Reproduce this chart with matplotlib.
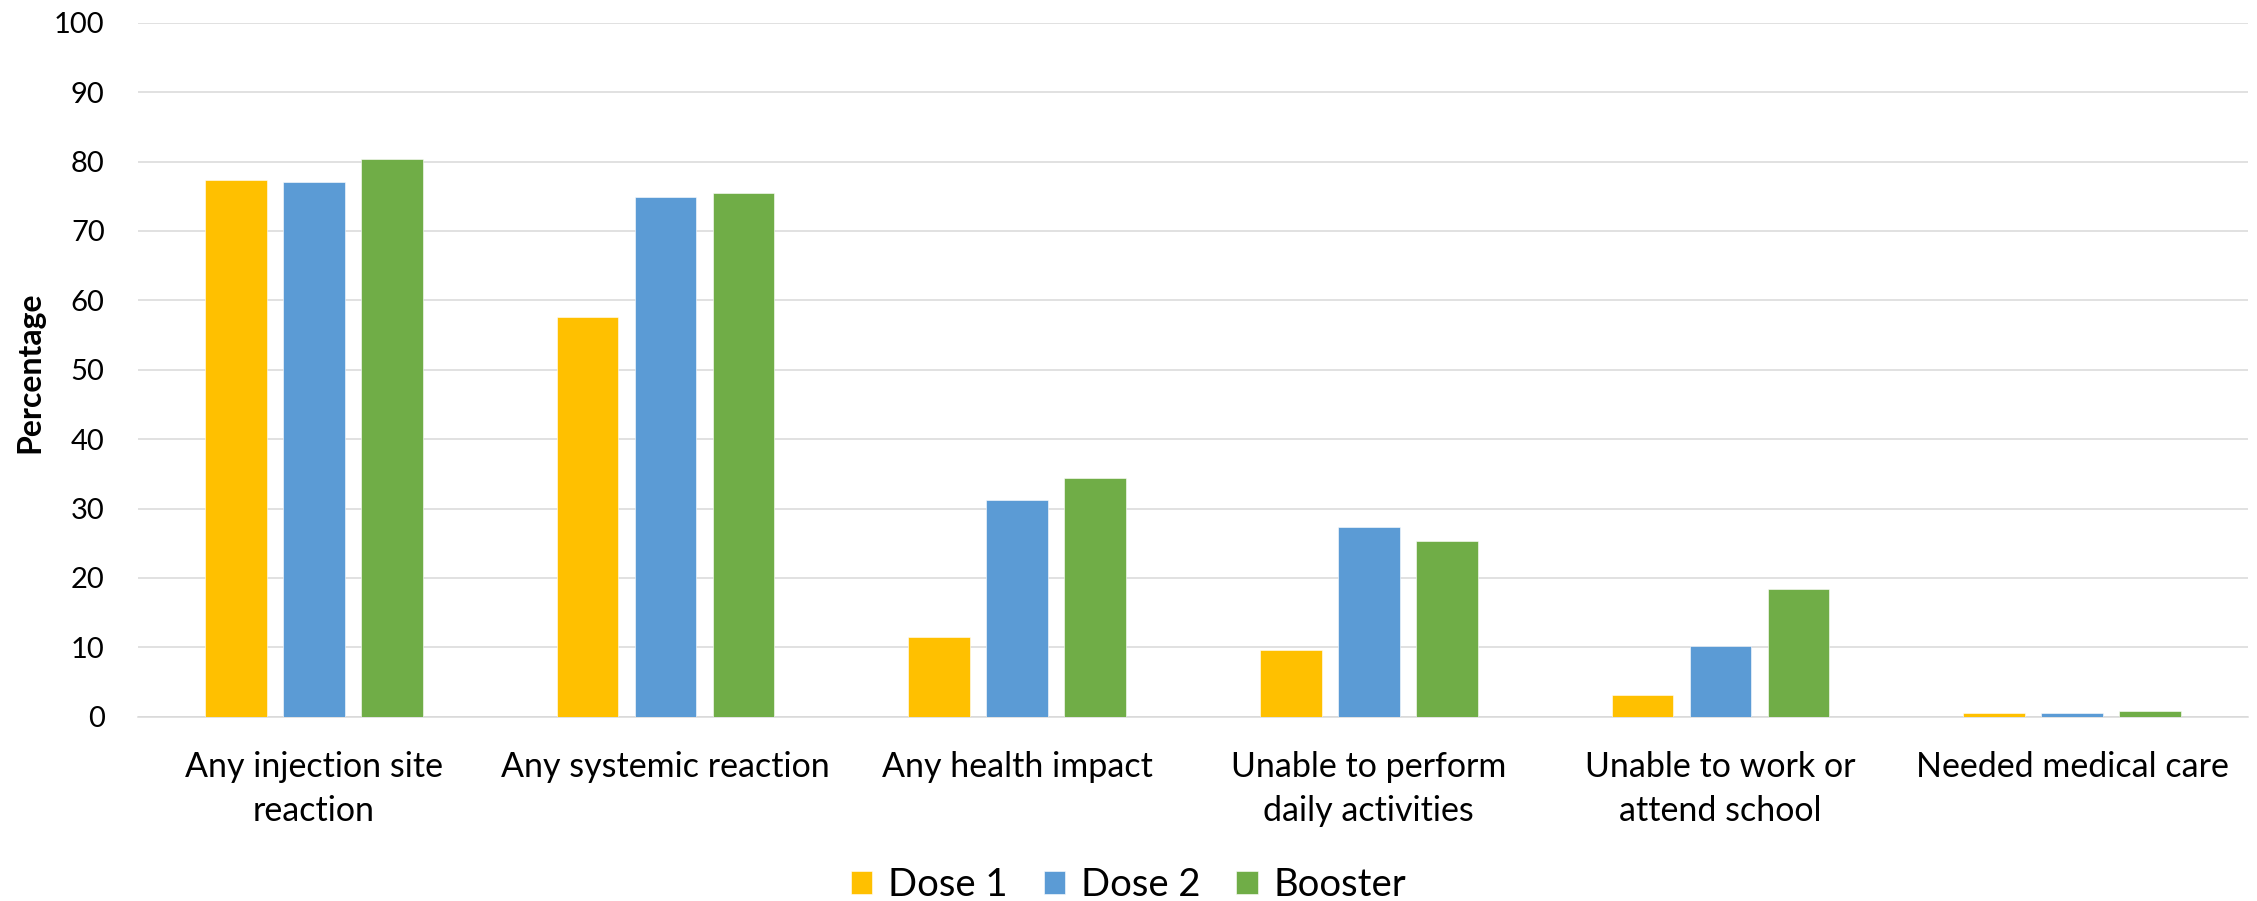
import matplotlib
matplotlib.use("Agg")
import matplotlib.pyplot as plt
import numpy as np

categories = ["Any injection site\nreaction", "Any systemic reaction", "Any health impact",
              "Unable to perform\ndaily activities", "Unable to work or\nattend school",
              "Needed medical care"]
series_names = ["Dose 1", "Dose 2", "Booster"]
dose1 = [77.3, 57.6, 11.5, 9.6, 3.1, 0.5]
dose2 = [77.1, 74.9, 31.2, 27.4, 10.2, 0.6]
booster = [80.4, 75.4, 34.4, 25.3, 18.4, 0.8]
colors = ["#FFC000", "#5B9BD5", "#70AD47"]
yticks = [0, 10, 20, 30, 40, 50, 60, 70, 80, 90, 100]

plt.rcParams['font.family'] = ['Lato', 'DejaVu Sans']

fig = plt.figure(figsize=(22.57, 9.01), dpi=100)
ax = fig.add_axes([138/2257, 1-716.7/901, (2248-138)/2257, (716.7-22.7)/901])

x = np.arange(len(categories))
width = 0.175
offset = 0.222
for i, (vals, name) in enumerate(zip([dose1, dose2, booster], series_names)):
    ax.bar(x + (i-1)*offset, vals, width, color=colors[i], label=name,
           edgecolor="white", linewidth=0.4, zorder=3)

ax.set_xlim(-0.5, len(categories)-0.5)
ax.set_ylim(0, 100)
ax.set_yticks(yticks)
ax.set_yticklabels([str(t) for t in yticks], fontsize=21)
ax.set_xticks(x)
ax.set_xticklabels(categories, fontsize=24.5, linespacing=1.45)
ax.tick_params(axis='y', length=0, pad=24)
ax.tick_params(axis='x', length=0, pad=25)
ax.grid(axis='y', color="#d9d9d9", linewidth=1.1, zorder=0)
for s in ["top", "right", "left"]:
    ax.spines[s].set_visible(False)
ax.spines["bottom"].set_color("#d9d9d9")
ax.spines["bottom"].set_linewidth(1.1)

fig.text(30/2257, 1-372/901, "Percentage", rotation=90, fontsize=23, fontweight="bold",
         ha="center", va="center")

leg = fig.legend(loc="center", bbox_to_anchor=(0.5, 1-885/901), ncol=3, frameon=False,
                 fontsize=27.5, handlelength=0.56, handleheight=0.56, handletextpad=0.42,
                 columnspacing=0.94)

fig.savefig("out.png", dpi=100)
